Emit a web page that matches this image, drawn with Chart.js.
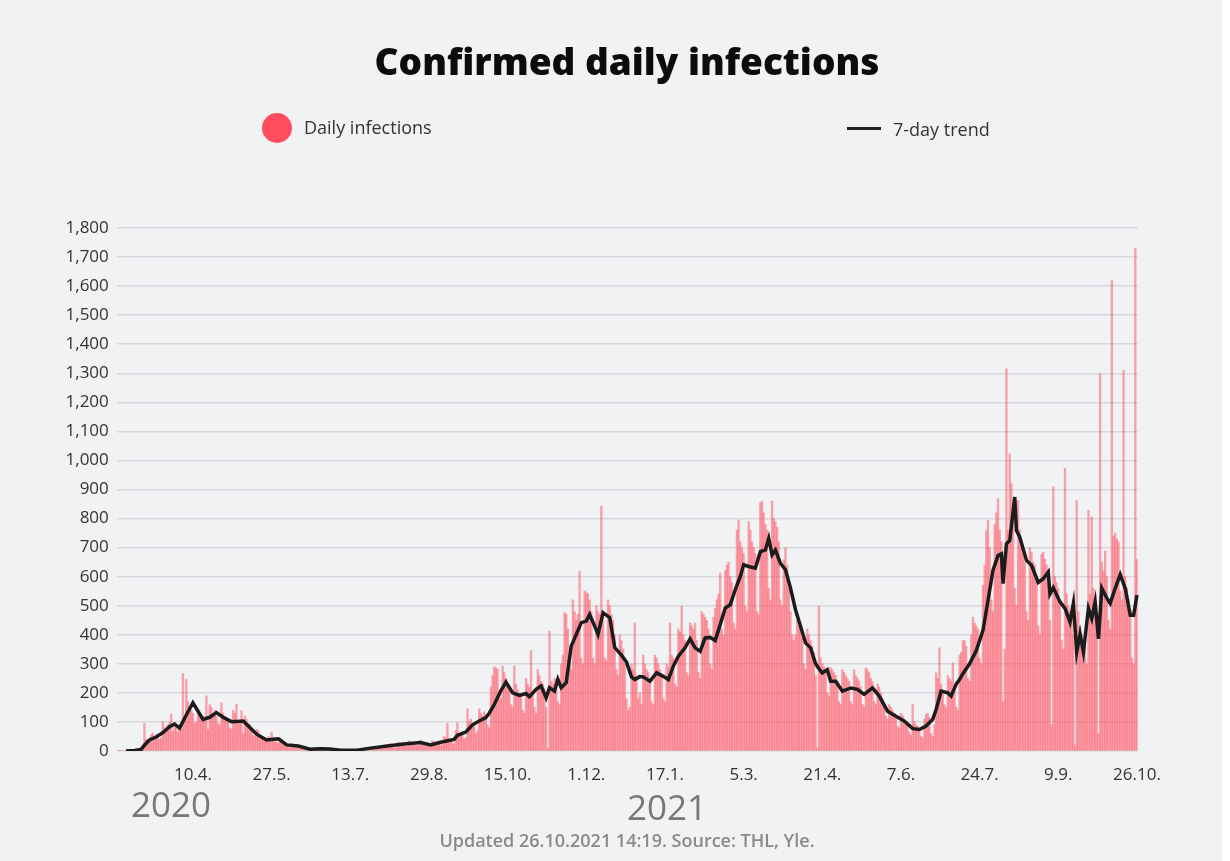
<!DOCTYPE html>
<html>
<head>
<meta charset="utf-8">
<title>Confirmed daily infections</title>
<script src="https://cdn.jsdelivr.net/npm/chart.js@4.4.0/dist/chart.umd.min.js"></script>
<style>
  html, body { margin: 0; padding: 0; background: #fff; }
  #wrap { position: relative; width: 1222px; height: 861px; background: #f1f2f4; font-family: 'Open Sans', sans-serif; overflow: hidden; }
  #chart { position: absolute; left: 0; top: 0; }
  .title { position: absolute; left: 0; width: 1254px; top: 38px; text-align: center; font-size: 37px; font-weight: 800; color: #0c0c0c; line-height: 46px; }
  .legend-dot { position: absolute; left: 262px; top: 113px; width: 30px; height: 30px; border-radius: 50%; background: #ff4d5e; }
  .legend-line { position: absolute; left: 847px; top: 127px; width: 34px; height: 3px; background: #222; }
  .legend-text { position: absolute; font-size: 18px; color: #333; line-height: 24px; }
  .year { position: absolute; font-size: 35px; color: #777; line-height: 40px; }
  .footer { position: absolute; left: 0; width: 1254px; top: 828px; text-align: center; font-size: 18px; font-weight: 600; color: #8a8a8a; line-height: 24px; }
</style>
</head>
<body>
<div id="wrap">
  <canvas id="chart" width="1222" height="861"></canvas>
  <div class="title">Confirmed daily infections</div>
  <div class="legend-dot"></div>
  <div class="legend-text" style="left:304px; top:115px;">Daily infections</div>
  <div class="legend-line"></div>
  <div class="legend-text" style="left:893px; top:117px;">7-day trend</div>
  <div class="year" style="left:131px; top:784px;">2020</div>
  <div class="year" style="left:627px; top:787px;">2021</div>
  <div class="footer">Updated 26.10.2021 14:19. Source: THL, Yle.</div>
</div>
<script>
// first day of the series
const startDate = Date.UTC(2020, 1, 25);

// daily confirmed cases, 25.2.2020 - 31.12.2020 (one row per week, Mon-Sun)
const dailyCases2020 = [
    0, 1, 0, 0, 0, 0,
    1, 2, 4, 3, 5, 6, 3,
    6, 12, 20, 95, 40, 25, 30,
    55, 62, 48, 52, 58, 40, 45,
    100, 80, 72, 90, 98, 127, 68,
    95, 80, 65, 90, 75, 267, 110,
    247, 170, 150, 140, 130, 95, 100,
    145, 130, 115, 120, 105, 190, 75,
    160, 150, 130, 140, 120, 95, 90,
    166, 130, 120, 115, 100, 80, 75,
    140, 130, 161, 105, 95, 138, 60,
    120, 110, 95, 90, 80, 55, 50,
    75, 70, 55, 50, 45, 35, 30,
    50, 45, 65, 48, 40, 30, 28,
    45, 40, 30, 25, 20, 15, 12,
    25, 22, 18, 15, 14, 10, 8,
    12, 10, 9, 8, 7, 5, 4,
    10, 9, 8, 7, 8, 5, 6,
    9, 8, 7, 6, 8, 4, 5,
    4, 3, 5, 2, 3, 2, 1,
    4, 5, 3, 3, 2, 2, 1,
    6, 8, 10, 12, 9, 6, 5,
    12, 15, 14, 13, 16, 8, 9,
    20, 22, 18, 25, 19, 12, 10,
    28, 30, 25, 27, 22, 18, 15,
    35, 32, 28, 30, 26, 18, 20,
    38, 30, 27, 25, 22, 15, 14,
    35, 32, 30, 33, 28, 20, 22,
    50, 45, 95, 42, 38, 28, 25,
    70, 97, 60, 65, 55, 40, 45,
    145, 100, 110, 95, 90, 60, 70,
    145, 130, 120, 135, 125, 90, 80,
    220, 260, 290, 285, 280, 200, 180,
    292, 270, 250, 230, 210, 160, 150,
    292, 230, 210, 200, 190, 140, 130,
    250, 230, 220, 346, 200, 150, 130,
    280, 260, 240, 230, 215, 150, 8,
    413, 240, 230, 250, 245, 170, 160,
    300, 330, 476, 470, 420, 300, 280,
    520, 480, 450, 470, 619, 320, 300,
    550, 545, 540, 520, 480, 320, 300,
    500, 480, 470, 843, 460, 320, 310,
    520, 500, 470, 450, 400, 280, 260,
    400, 380, 350, 300, 180, 140, 150,
    300, 280, 441, 260
];

// daily confirmed cases, 1.1.2021 - 26.10.2021
const dailyCases2021 = [
    180, 200, 160,
    330, 300, 280, 270, 250, 170, 160,
    330, 320, 300, 280, 260, 180, 170,
    300, 290, 440, 330, 320, 230, 220,
    420, 410, 498, 400, 380, 270, 260,
    440, 430, 420, 440, 380, 270, 250,
    480, 470, 460, 450, 420, 300, 280,
    460, 490, 520, 540, 612, 420, 400,
    620, 640, 650, 600, 580, 440, 420,
    760, 795, 720, 700, 680, 500, 480,
    790, 760, 720, 700, 680, 480, 470,
    855, 860, 820, 780, 760, 560, 520,
    860, 800, 790, 770, 720, 520, 500,
    658, 700, 640, 560, 480, 400, 380,
    400, 450, 430, 420, 390, 300, 280,
    420, 400, 380, 360, 340, 260, 10,
    498, 320, 300, 290, 280, 200, 190,
    286, 280, 270, 260, 240, 170, 160,
    280, 270, 260, 250, 240, 170, 160,
    280, 260, 250, 240, 220, 160, 150,
    286, 280, 270, 250, 240, 170, 160,
    230, 220, 200, 180, 160, 120, 110,
    160, 150, 140, 130, 120, 85, 80,
    130, 120, 110, 100, 90, 65, 55,
    160, 100, 90, 85, 80, 50, 45,
    110, 125, 130, 115, 60, 50, 90,
    269, 250, 355, 230, 210, 160, 150,
    260, 250, 240, 303, 220, 150, 140,
    330, 340, 380, 380, 360, 250, 240,
    400, 461, 440, 430, 420, 320, 300,
    570, 640, 759, 794, 700, 520, 480,
    780, 820, 868, 760, 720, 170, 350,
    1315, 760, 1023, 920, 800, 560, 500,
    862, 760, 700, 680, 650, 480, 450,
    700, 685, 650, 640, 600, 430, 400,
    677, 685, 660, 640, 620, 450, 90,
    909, 600, 580, 560, 520, 380, 350,
    973, 540, 500, 480, 470, 400, 20,
    863, 480, 430, 400, 316, 360, 300,
    828, 540, 805, 560, 520, 460, 60,
    1299, 650, 620, 688, 600, 450, 420,
    1619, 740, 750, 730, 720, 550, 520,
    1310, 600, 560, 520, 480, 320, 300,
    1730, 659
];

// 7-day trend: [day number from start, value]
const trend7 = [
    [5, 0], [10, 2], [14, 5], [16, 20], [19, 38], [23, 48], [27, 63], [31, 84], [34, 93], [37, 79],
    [41, 124], [45, 166], [47, 147], [51, 109], [55, 116], [59, 132], [63, 116], [68, 101], [75, 103], [79, 81],
    [83, 58], [89, 38], [96, 42], [101, 21], [108, 17], [115, 6], [121, 8], [127, 7], [133, 3], [143, 3],
    [150, 9], [161, 17], [171, 24], [181, 29], [187, 21], [193, 30], [201, 40], [203, 54], [208, 65], [212, 90],
    [216, 103], [220, 115], [222, 130], [225, 160], [229, 208], [232, 237], [236, 200], [240, 191], [244, 198], [246, 187],
    [250, 212], [253, 224], [256, 183], [258, 218], [261, 206], [263, 247], [265, 218], [268, 235], [271, 361], [274, 401],
    [277, 442], [280, 447], [282, 470], [285, 430], [287, 401], [290, 476], [294, 459], [297, 356], [301, 330], [304, 306],
    [307, 255], [309, 246], [312, 256], [314, 255], [318, 240], [322, 269], [326, 257], [329, 246], [332, 292], [335, 326],
    [339, 355], [342, 386], [345, 355], [348, 343], [351, 389], [354, 391], [357, 380], [360, 435], [363, 492], [366, 503],
    [369, 555], [372, 601], [374, 641], [377, 635], [381, 629], [384, 686], [387, 692], [389, 732], [391, 675], [393, 692],
    [396, 646], [399, 624], [402, 561], [405, 486], [408, 429], [411, 372], [414, 355], [417, 300], [419, 283], [421, 269],
    [424, 280], [426, 240], [429, 240], [433, 206], [438, 217], [442, 212], [446, 195], [451, 217], [455, 189], [460, 137],
    [465, 120], [470, 103], [475, 77], [479, 74], [483, 86], [487, 109], [489, 143], [492, 206], [496, 200], [498, 189],
    [501, 230], [503, 246], [505, 266], [509, 300], [513, 346], [517, 415], [520, 518], [523, 622], [526, 673], [528, 679],
    [529, 576], [531, 713], [533, 725], [536, 874], [537, 759], [539, 736], [543, 656], [546, 639], [550, 580], [553, 593],
    [556, 616], [557, 540], [559, 562], [563, 513], [566, 491], [569, 444], [571, 508], [573, 340], [575, 403], [577, 340],
    [580, 491], [582, 456], [584, 514], [586, 386], [588, 560], [591, 526], [593, 508], [596, 560], [599, 607], [602, 560],
    [605, 467], [607, 467], [609, 537]
];

const xTickLabels = ['10.4.', '27.5.', '13.7.', '29.8.', '15.10.', '1.12.', '17.1.', '5.3.', '21.4.', '7.6.', '24.7.', '9.9.', '26.10.'];
const yMax = 1800;
const yStep = 100;

const dailyCases = dailyCases2020.concat(dailyCases2021);
const categories = dailyCases.map((_, i) => new Date(startDate + i * 86400000).toISOString().slice(0, 10));

// index of the category for each tick label, in order
function tickIndexes() {
    const out = [];
    let from = 0;
    xTickLabels.forEach(lbl => {
        for (let i = from; i < categories.length; i++) {
            const d = new Date(categories[i]);
            if (`${d.getUTCDate()}.${d.getUTCMonth() + 1}.` === lbl) {
                out.push(i);
                from = i + 1;
                break;
            }
        }
    });
    return out;
}

const font = { family: "'Open Sans', sans-serif", size: 17 };

new Chart(document.getElementById('chart'), {
    data: {
        labels: categories,
        datasets: [
            {
                type: 'line',
                label: '7-day trend',
                data: trend7.map(([d, v]) => ({ x: categories[d], y: v })),
                borderColor: '#1c1c1c',
                borderWidth: 3.5,
                pointRadius: 0,
                tension: 0,
                order: 0
            },
            {
                type: 'bar',
                label: 'Daily infections',
                data: dailyCases,
                backgroundColor: 'rgba(255, 77, 94, 0.5)',
                barPercentage: 1,
                categoryPercentage: 1,
                order: 1
            }
        ]
    },
    options: {
        responsive: false,
        animation: false,
        layout: { padding: { left: 56.8, right: 84.2, top: 228, bottom: 70 } },
        plugins: {
            legend: { display: false },
            tooltip: { enabled: false }
        },
        scales: {
            x: {
                offset: true,
                grid: { display: false },
                border: { display: false },
                afterBuildTicks: axis => {
                    axis.ticks = tickIndexes().map(v => ({ value: v }));
                },
                afterFit: axis => { axis.height = 40; },
                ticks: {
                    autoSkip: false,
                    maxRotation: 0,
                    padding: 6,
                    color: '#333',
                    font: font,
                    callback: (value, index) => xTickLabels[index]
                }
            },
            y: {
                min: 0,
                max: yMax,
                afterFit: axis => { axis.width = 60; },
                grid: { color: '#d6d8db', lineWidth: 1.5, drawTicks: false },
                border: { display: false },
                ticks: {
                    stepSize: yStep,
                    padding: 8,
                    color: '#333',
                    font: font,
                    callback: v => v.toLocaleString('en-US')
                }
            }
        }
    }
});
</script>
</body>
</html>
